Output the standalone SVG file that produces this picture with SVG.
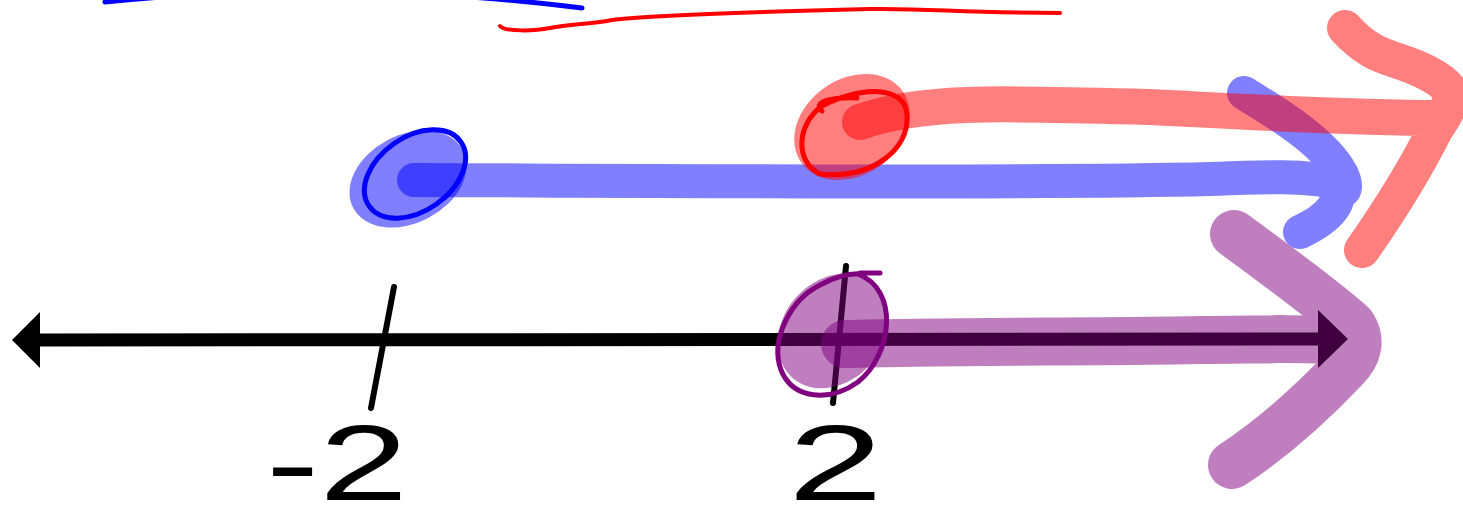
<svg xmlns="http://www.w3.org/2000/svg" width="1463" height="526" viewBox="0 0 1463 526">
<style>
.ink{fill:none;stroke-linecap:round;stroke-linejoin:round}
.hl{fill:none;stroke-linecap:round;stroke-linejoin:round;stroke-opacity:0.5}
.lbl{font-family:"Liberation Sans",Arial,sans-serif;font-size:108px;fill:#000}
</style>
<rect width="1463" height="526" fill="#fff"/>
<g id="top-strokes">
<path class="ink" d="M105,2 Q340,-22 582,8" stroke="#0000ff" stroke-width="5"/>
<path class="ink" d="M500,26 C505,32 535,31 550,28 C570,24 595,24 612,20 C650,15 750,12 870,9 C930,8 960,13 1060,13" stroke="#ff0000" stroke-width="4"/>
</g>
<g id="number-line">
<path d="M40,340 L1320,339" stroke="#000" stroke-width="13" fill="none"/>
<polygon points="12,340 40,312 40,368" fill="#000"/>
<polygon points="1348,339 1318,310 1318,368" fill="#000"/>
</g>
<g id="tick-neg2">
<path class="ink" d="M394,287 L371,408" stroke="#000" stroke-width="6"/>
<text class="lbl" x="266" y="500" textLength="142" lengthAdjust="spacingAndGlyphs">-2</text>
</g>
<g id="tick-2">
<path class="ink" d="M846,266 L833,403" stroke="#000" stroke-width="6"/>
<text class="lbl" x="788" y="500" textLength="95" lengthAdjust="spacingAndGlyphs">2</text>
</g>
<g id="blue-ray">
<ellipse cx="408" cy="179" rx="62" ry="44" transform="rotate(-28 408 179)" fill="#0000ff" fill-opacity="0.5"/>
<path class="hl" d="M414,180 C700,181 1050,183 1210,179 C1260,177 1310,175 1335,183 C1345,200 1330,218 1300,232 M1244,93 C1280,115 1320,140 1338,168 C1350,185 1345,200 1335,183" stroke="#0000ff" stroke-width="34"/>
<ellipse cx="415" cy="174" rx="56" ry="37" transform="rotate(-35 415 174)" class="ink" stroke="#0000ff" stroke-width="5"/>
</g>
<g id="red-ray">
<ellipse cx="852" cy="127" rx="62" ry="48" transform="rotate(-35 852 127)" fill="#ff0000" fill-opacity="0.5"/>
<path class="hl" d="M860,122 C920,100 1000,103 1150,107 C1250,112 1350,118 1440,118 M1345,28 C1365,50 1380,55 1395,60 C1420,68 1440,78 1448,88 C1455,100 1445,115 1435,130 C1415,170 1390,210 1362,250" stroke="#ff0000" stroke-width="36"/>
<path class="ink" d="M822,111 C810,100 840,97 857,98 M822,106 C862,86 905,85 907,115 C910,150 870,180 820,174 C795,162 796,125 822,106" stroke="#ff0000" stroke-width="5"/>
</g>
<g id="purple-ray">
<ellipse cx="833" cy="331" rx="62" ry="50" transform="rotate(-50 833 331)" fill="#800080" fill-opacity="0.5"/>
<path class="hl" d="M845,344 C950,341 1100,342 1200,340 C1260,339 1320,338 1352,342 M1234,234 C1290,275 1330,305 1352,325 C1362,340 1358,355 1345,368 C1310,405 1270,440 1232,465" stroke="#800080" stroke-width="48"/>
<path class="ink" d="M860,273 L880,273 M858,274 C900,290 892,355 858,382 C830,402 793,400 781,370 C770,340 790,300 820,285 C835,277 850,273 862,274" stroke="#800080" stroke-width="5"/>
</g>
</svg>
